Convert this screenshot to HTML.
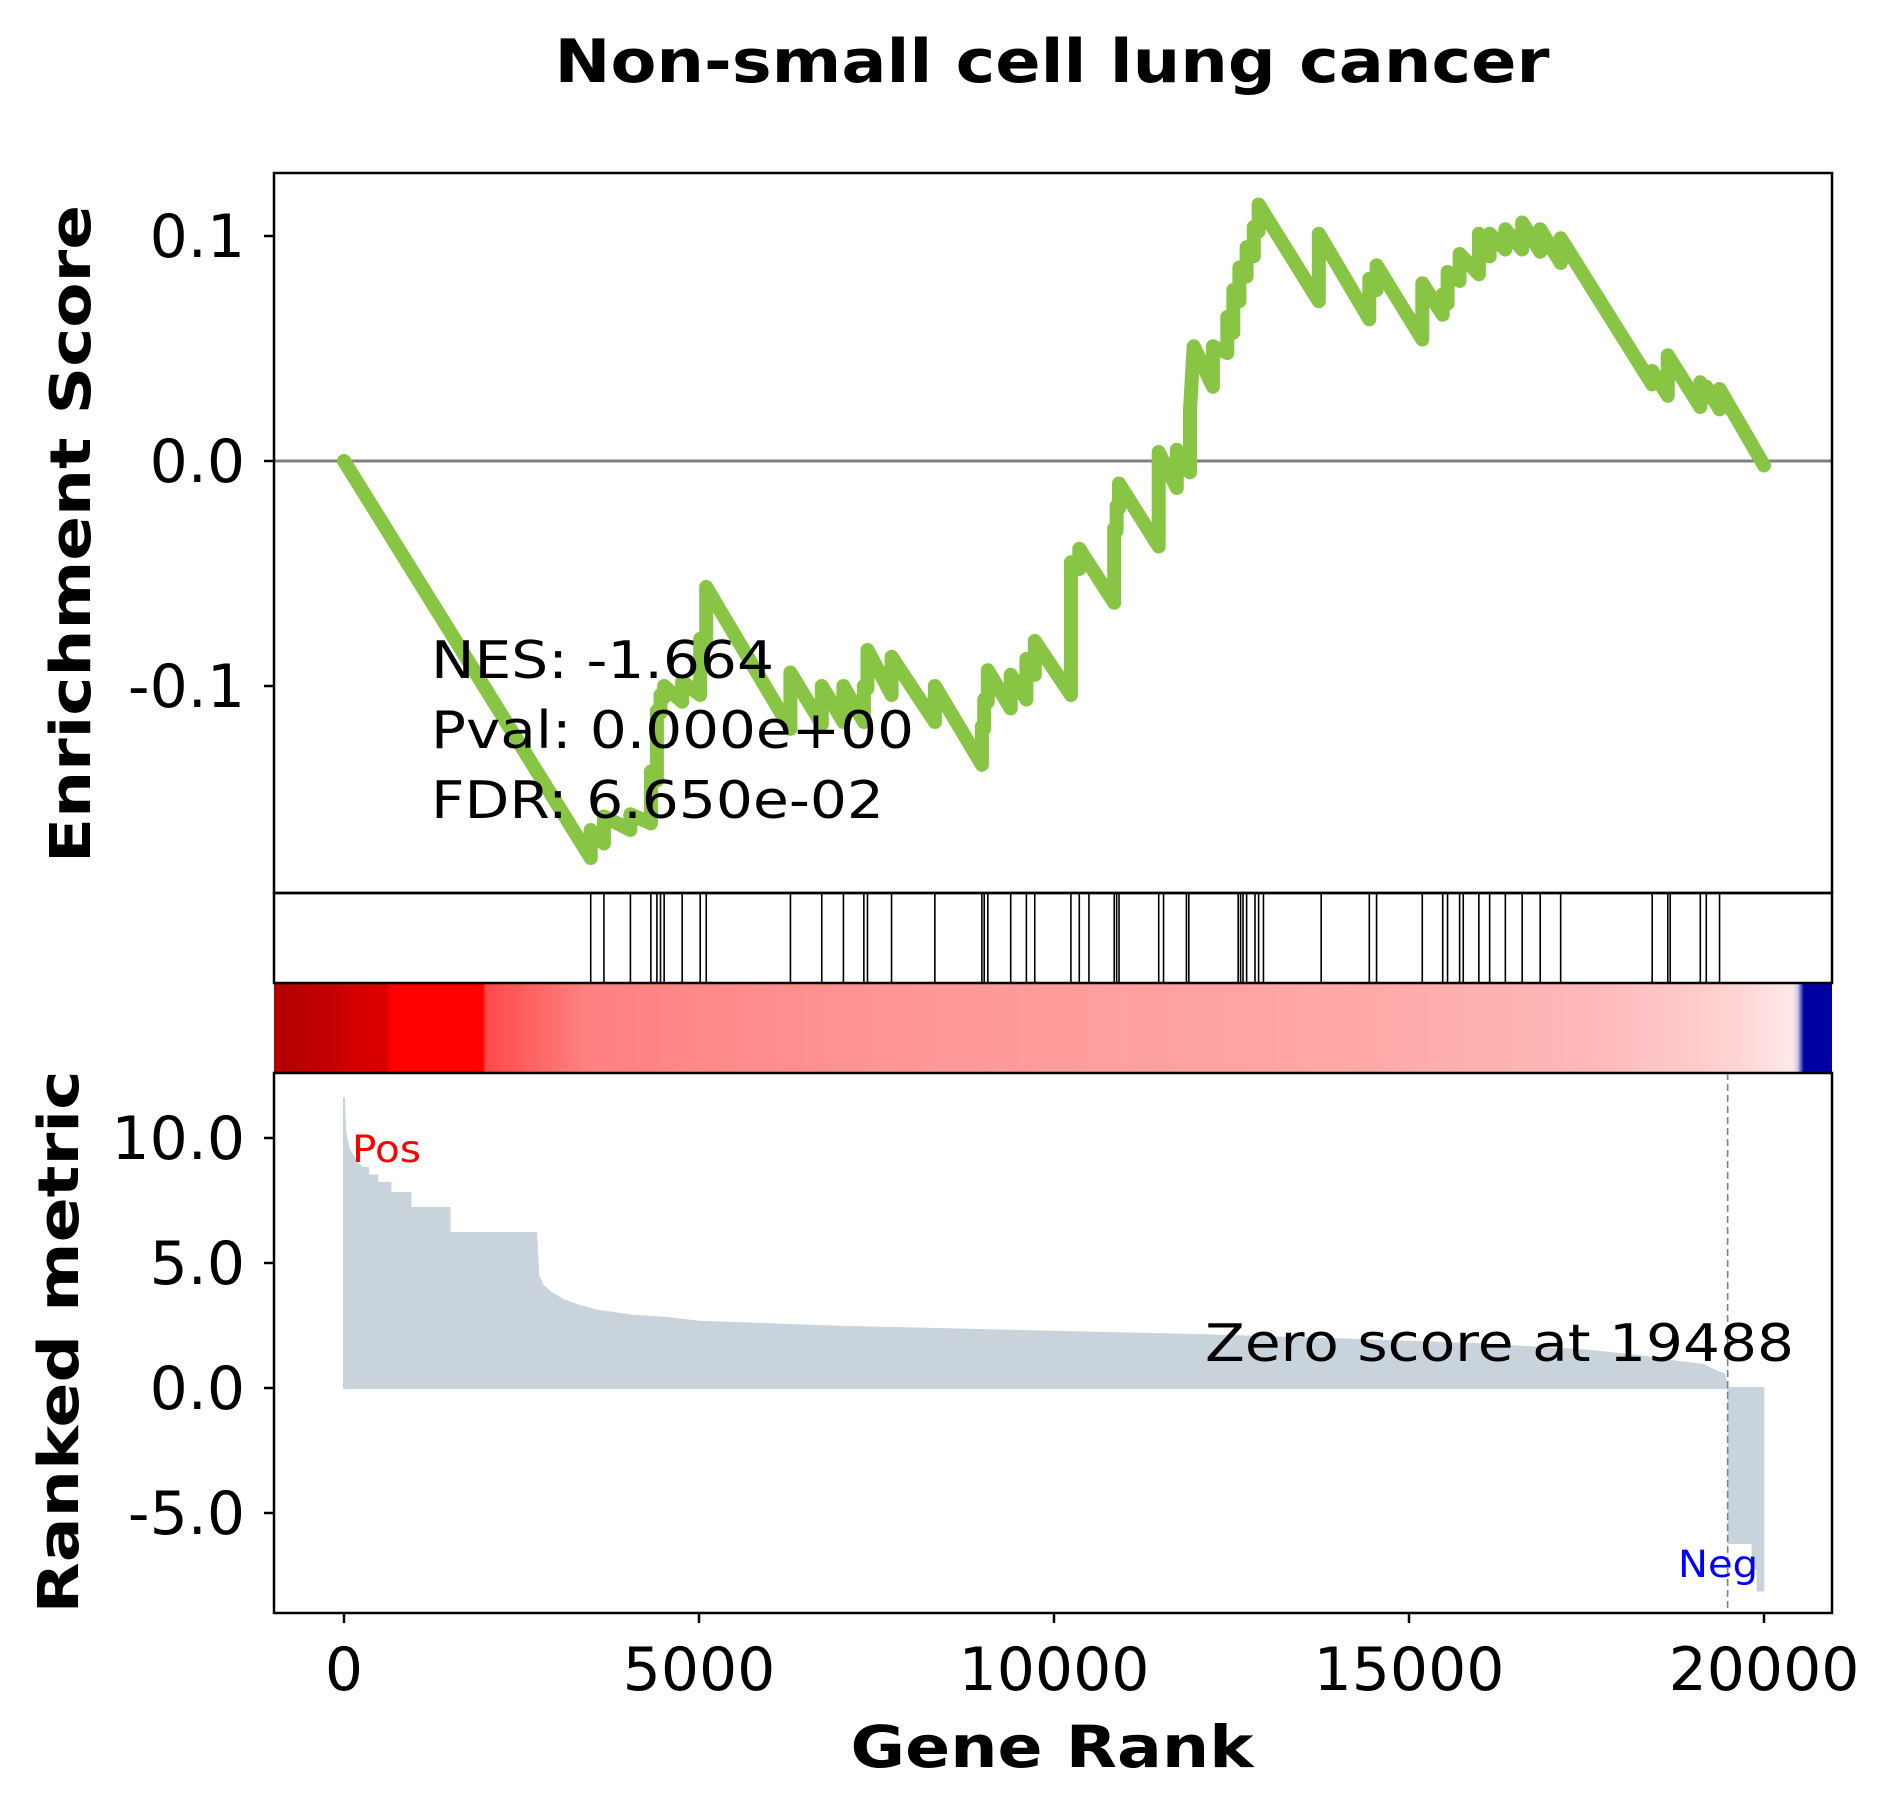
<!DOCTYPE html>
<html><head><meta charset="utf-8"><style>
html,body{margin:0;padding:0;background:#fff;}
svg{display:block;font-family:"DejaVu Sans","Liberation Sans",sans-serif;}
</style></head><body>
<svg id="chart" xmlns="http://www.w3.org/2000/svg" width="1886" height="1812" viewBox="0 0 1886 1812">
<defs>
<linearGradient id="hm" x1="274" x2="1832" y1="0" y2="0" gradientUnits="userSpaceOnUse">
<stop offset="0" stop-color="#b00000"/><stop offset="0.045" stop-color="#c80000"/>
<stop offset="0.046" stop-color="#d20000"/><stop offset="0.073" stop-color="#dc0000"/>
<stop offset="0.074" stop-color="#ff0000"/><stop offset="0.134" stop-color="#ff0000"/>
<stop offset="0.136" stop-color="#ff4a4a"/><stop offset="0.2" stop-color="#ff8080"/>
<stop offset="0.4" stop-color="#ff9696"/><stop offset="0.7" stop-color="#ffa8a8"/>
<stop offset="0.85" stop-color="#ffb9b9"/><stop offset="0.94" stop-color="#ffd4d4"/>
<stop offset="0.975" stop-color="#ffe8e8"/><stop offset="0.978" stop-color="#c8c8f0"/>
<stop offset="0.982" stop-color="#0000a0"/><stop offset="1" stop-color="#0000a0"/>
</linearGradient>
</defs>
<text x="1052" y="82" font-size="60" font-weight="bold" text-anchor="middle" textLength="995" lengthAdjust="spacingAndGlyphs">Non-small cell lung cancer</text>
<g id="topPanel"></g>
<g id="barPanel"></g>
<rect x="274" y="983" width="1558" height="90" fill="url(#hm)"/>
<g id="botPanel"></g>
<rect x="274" y="173" width="1558" height="720" fill="none" stroke="#000" stroke-width="2.5"/>
<rect x="274" y="893" width="1558" height="90" fill="none" stroke="#000" stroke-width="2.5"/>
<rect x="274" y="1073" width="1558" height="540" fill="none" stroke="#000" stroke-width="2.5"/>
<text transform="translate(90,534) rotate(-90)" font-size="56" font-weight="bold" text-anchor="middle" textLength="658" lengthAdjust="spacingAndGlyphs">Enrichment Score</text>
<text transform="translate(78,1342) rotate(-90)" font-size="56" font-weight="bold" text-anchor="middle" textLength="543" lengthAdjust="spacingAndGlyphs">Ranked metric</text>
<text x="1052" y="1767" font-size="58" font-weight="bold" text-anchor="middle" textLength="403" lengthAdjust="spacingAndGlyphs">Gene Rank</text>
<text x="431" y="678" font-size="52" textLength="343" lengthAdjust="spacingAndGlyphs">NES: -1.664</text>
<text x="431" y="748" font-size="52" textLength="483" lengthAdjust="spacingAndGlyphs">Pval: 0.000e+00</text>
<text x="431" y="818" font-size="52" textLength="453" lengthAdjust="spacingAndGlyphs">FDR: 6.650e-02</text>
<text x="352" y="1162" font-size="37" fill="#ff0000" textLength="69" lengthAdjust="spacingAndGlyphs">Pos</text>
<text x="1678" y="1577" font-size="37" fill="#0000ff" textLength="80" lengthAdjust="spacingAndGlyphs">Neg</text>
<text x="1205" y="1361" font-size="52" textLength="589" lengthAdjust="spacingAndGlyphs">Zero score at 19488</text>
</svg>
<script>
const esRanks=[0,3475,3475,3661,3661,4034,4034,4322,4322,4407,4407,4458,4458,4509,4509,4763,4763,5017,5017,5102,5102,6288,6288,6729,6729,7034,7034,7322,7322,7373,7373,7712,7712,8322,8322,8984,8984,9017,9017,9068,9068,9390,9390,9611,9611,9729,9729,10238,10238,10356,10356,10848,10848,10882,10882,10916,10916,11475,11475,11729,11729,11916,11916,11967,12238,12238,12441,12441,12526,12526,12611,12611,12713,12713,12814,12814,12882,12882,13730,13730,14441,14441,14543,14543,15187,15187,15475,15475,15543,15543,15713,15713,15984,15984,16136,16136,16357,16357,16594,16594,16848,16848,17136,17136,18425,18425,18645,18645,19103,19103,19187,19187,19374,19374,20000];
const esValues=[0,-0.1765,-0.164,-0.170,-0.158,-0.164,-0.157,-0.161,-0.138,-0.142,-0.111,-0.112,-0.104,-0.105,-0.100,-0.107,-0.098,-0.104,-0.079,-0.082,-0.056,-0.119,-0.094,-0.117,-0.100,-0.116,-0.100,-0.116,-0.100,-0.101,-0.084,-0.104,-0.087,-0.116,-0.100,-0.135,-0.118,-0.119,-0.106,-0.107,-0.093,-0.110,-0.095,-0.106,-0.088,-0.095,-0.080,-0.104,-0.045,-0.048,-0.039,-0.063,-0.030,-0.031,-0.020,-0.021,-0.010,-0.038,0.004,-0.012,0.005,-0.005,0.023,0.051,0.033,0.051,0.048,0.064,0.057,0.076,0.071,0.086,0.082,0.095,0.091,0.104,0.102,0.114,0.071,0.101,0.063,0.081,0.076,0.087,0.054,0.079,0.065,0.074,0.070,0.084,0.080,0.092,0.083,0.101,0.091,0.101,0.094,0.103,0.094,0.106,0.093,0.103,0.088,0.099,0.034,0.040,0.029,0.047,0.024,0.035,0.028,0.033,0.023,0.032,-0.002];
const hitRanks=[3475,3661,4034,4322,4407,4458,4509,4763,5017,5102,6288,6729,7034,7322,7373,7712,8322,8984,9017,9068,9390,9611,9729,10238,10356,10492,10848,10882,10916,11475,11543,11865,11899,12594,12628,12662,12713,12831,12882,12950,13763,14441,14543,15187,15475,15543,15713,15764,15984,16136,16357,16594,16848,17136,18425,18645,18679,19103,19187,19374];
const metricRanks=[0,15,60,163,257,257,341,341,468,468,655,655,936,936,1488,1488,2705,2737,2800,2920,3100,3298,3551,4042,4561,5000,7000,10000,12000,14000,16000,17500,18316,18780,19150,19340,19440,19488,19500,19500,19840,19840,19910,19910,19990,19990];
const metricValues=[11.6,10.3,9.6,9.1,8.8,8.8,8.8,8.5,8.5,8.2,8.2,7.8,7.8,7.2,7.2,6.2,6.2,4.5,4.1,3.8,3.5,3.3,3.1,2.9,2.8,2.65,2.45,2.25,2.12,1.95,1.75,1.5,1.25,1.05,0.92,0.65,0.55,0,-0.2,-6.2,-6.2,-7.2,-7.2,-8.1,-8.1,0];
const esTicks=[0.1,0.0,-0.1];
const esTickLabels=["0.1","0.0","-0.1"];
const metricTicks=[10,5,0,-5];
const metricTickLabels=["10.0","5.0","0.0","-5.0"];
const xTicks=[0,5000,10000,15000,20000];
const xTickLabels=["0","5000","10000","15000","20000"];
const zeroScoreRank=19488;

const NS="http://www.w3.org/2000/svg";
const xs=v=>344+v*0.0710;
const yTop=v=>461-v*2250;
const yBot=v=>1388-v*25;
function mk(tag,attrs,parent){const e=document.createElementNS(NS,tag);for(const k in attrs)e.setAttribute(k,attrs[k]);parent.appendChild(e);return e;}
const topG=document.getElementById('topPanel'),barG=document.getElementById('barPanel'),botG=document.getElementById('botPanel');

let zl=mk('line',{x1:274,x2:1832,y1:yTop(0),y2:yTop(0),stroke:'#808080','stroke-width':3},topG);


let pts=esRanks.map((r,i)=>xs(r).toFixed(1)+','+yTop(esValues[i]).toFixed(1)).join(' ');
let esl=mk('polyline',{points:pts,fill:'none',stroke:'#88c544','stroke-width':14,'stroke-linejoin':'round','stroke-linecap':'round'},topG);


esTicks.forEach((t,i)=>{
  let tk=mk('line',{x1:264,x2:274,y1:yTop(t),y2:yTop(t),stroke:'#000','stroke-width':2.5},topG);
  
  
  let tl=mk('text',{x:245,y:yTop(t)+21,'font-size':60,'text-anchor':'end'},topG);
  tl.textContent=esTickLabels[i];
  
  
});
hitRanks.forEach(r=>{
  let l=mk('line',{x1:xs(r),x2:xs(r),y1:893,y2:983,stroke:'#000','stroke-width':1.6},barG);
  
  
});
let mp='M'+xs(0)+','+yBot(0)+' '+metricRanks.map((r,i)=>'L'+xs(r).toFixed(1)+','+yBot(metricValues[i]).toFixed(1)).join(' ')+' Z';
let area=mk('path',{d:mp,fill:'#c8d3dc',stroke:'#c8d3dc','stroke-width':2,'stroke-linejoin':'round'},botG);


let dl=mk('line',{x1:xs(zeroScoreRank),x2:xs(zeroScoreRank),y1:1073,y2:1613,stroke:'#808080','stroke-width':1.6,'stroke-dasharray':'7,4'},botG);


metricTicks.forEach((t,i)=>{
  let tk=mk('line',{x1:264,x2:274,y1:yBot(t),y2:yBot(t),stroke:'#000','stroke-width':2.5},botG);
  
  
  let tl=mk('text',{x:245,y:yBot(t)+21,'font-size':60,'text-anchor':'end'},botG);
  tl.textContent=metricTickLabels[i];
  
  
});
xTicks.forEach((t,i)=>{
  let tk=mk('line',{x1:xs(t),x2:xs(t),y1:1613,y2:1623,stroke:'#000','stroke-width':2.5},botG);
  
  
  let tl=mk('text',{x:xs(t),y:1690,'font-size':60,'text-anchor':'middle'},botG);
  tl.textContent=xTickLabels[i];
  
  
});
</script>
</body></html>
